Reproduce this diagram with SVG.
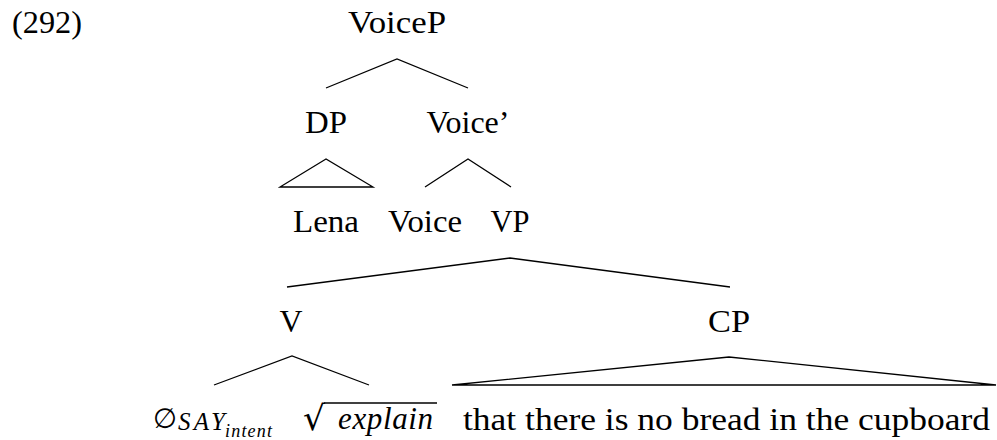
<svg xmlns="http://www.w3.org/2000/svg" width="997" height="440" viewBox="0 0 997 440">
<style>
text{font-family:"Liberation Serif","DejaVu Serif",serif;fill:#000}
.n{font-size:31px}
.m{text-anchor:middle}
.it{font-style:italic}
.e{fill:none;stroke:#000;stroke-width:1.3}
</style>
<rect width="997" height="440" fill="#fff"/>
<text class="n" x="12" y="33" textLength="70" lengthAdjust="spacingAndGlyphs">(292)</text>
<g id="VoiceP"><text class="n m" x="397" y="33" textLength="98" lengthAdjust="spacingAndGlyphs">VoiceP</text></g>
<g id="DP"><text class="n m" x="326" y="133" textLength="42" lengthAdjust="spacingAndGlyphs">DP</text></g>
<g id="VoiceBar"><text class="n m" x="468" y="133" textLength="83" lengthAdjust="spacingAndGlyphs">Voice’</text></g>
<g id="Lena"><text class="n m" x="326" y="232" textLength="66" lengthAdjust="spacingAndGlyphs">Lena</text></g>
<g id="Voice"><text class="n m" x="425" y="232" textLength="74" lengthAdjust="spacingAndGlyphs">Voice</text></g>
<g id="VP"><text class="n m" x="510" y="232" textLength="39" lengthAdjust="spacingAndGlyphs">VP</text></g>
<g id="V"><text class="n m" x="291" y="332" textLength="23" lengthAdjust="spacingAndGlyphs">V</text></g>
<g id="CP"><text class="n m" x="729" y="332" textLength="42" lengthAdjust="spacingAndGlyphs">CP</text></g>
<g id="NullSay">
<text x="153" y="428" style="font-family:'DejaVu Sans',sans-serif;font-size:28px" textLength="24" lengthAdjust="spacingAndGlyphs">∅</text>
<text x="178" y="430" class="it" style="font-size:25px" textLength="47" lengthAdjust="spacing">SAY</text>
<text x="225" y="437" class="it" style="font-size:18px" textLength="47" lengthAdjust="spacing">intent</text>
</g>
<g id="Explain">
<text x="303" y="430" style="font-family:'DejaVu Sans',sans-serif;font-size:34px" textLength="22" lengthAdjust="spacingAndGlyphs">√</text>
<line class="e" x1="324" y1="403" x2="437" y2="403"/>
<text x="338" y="429" class="it" style="font-size:31px" textLength="95" lengthAdjust="spacing">explain</text>
</g>
<g id="Clause"><text class="n" x="463" y="430" textLength="527" lengthAdjust="spacingAndGlyphs">that there is no bread in the cupboard</text></g>
<g id="edges">
<polyline class="e" points="326,88 397,59 468,88"/>
<polygon class="e" points="326,159 280,187 373,187"/>
<polyline class="e" points="425,187 468,159 511,187"/>
<polyline class="e" points="287,287 510,258 730,287"/>
<polyline class="e" points="214,385 292,356 369,385"/>
<polygon class="e" points="729,357 452,385 996,385"/>
</g>
</svg>
